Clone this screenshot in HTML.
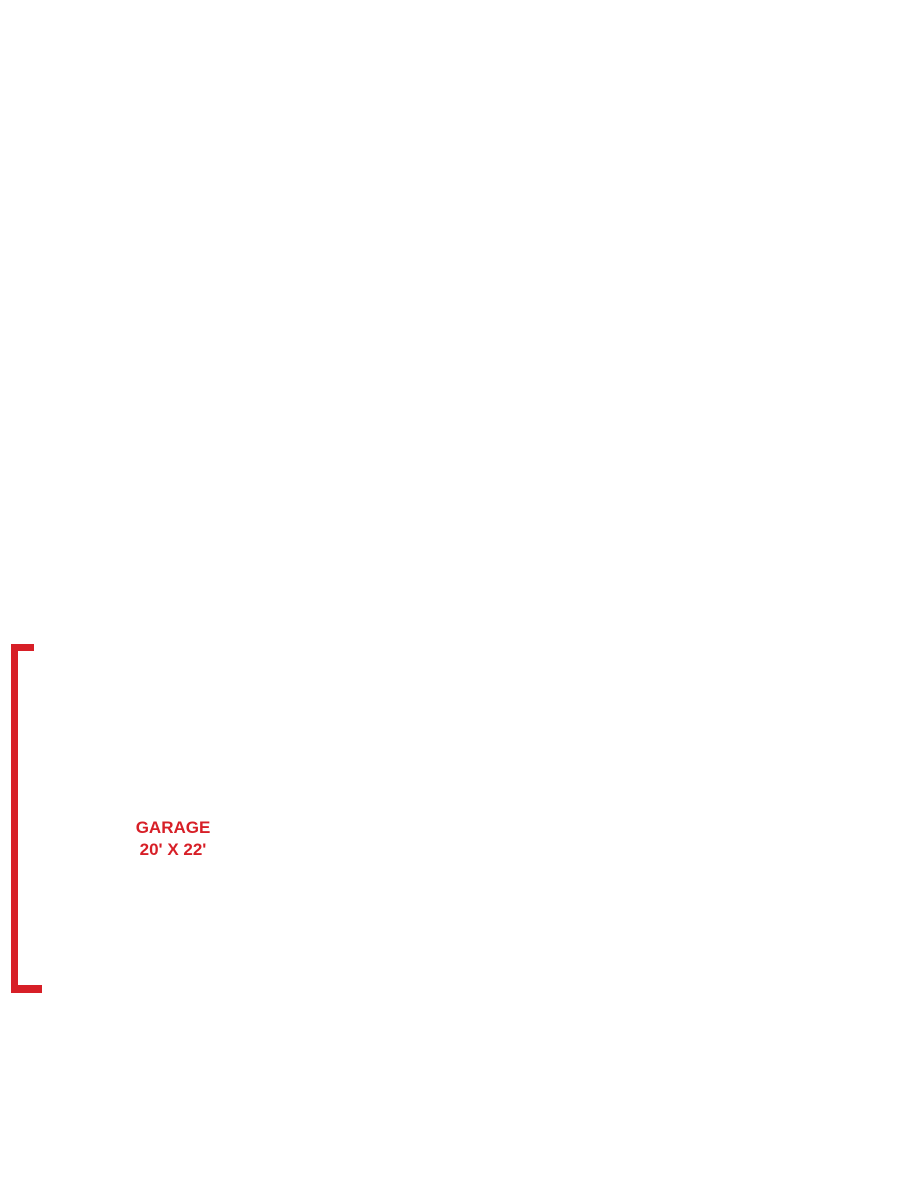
<!DOCTYPE html>
<html><head><style>
body{margin:0;width:900px;height:1200px;background:#fff;position:relative;overflow:hidden}
.r{position:absolute;background:#d71f27}
.t{position:absolute;left:100px;width:146px;text-align:center;color:#d71f27;font:bold 17px/22px "Liberation Sans",sans-serif}
</style></head><body>
<div class="r" style="left:11px;top:644px;width:7px;height:349px"></div>
<div class="r" style="left:11px;top:644px;width:23px;height:7px"></div>
<div class="r" style="left:11px;top:985px;width:31px;height:8px"></div>
<div class="t" style="top:817px">GARAGE<br>20' X 22'</div>
</body></html>
